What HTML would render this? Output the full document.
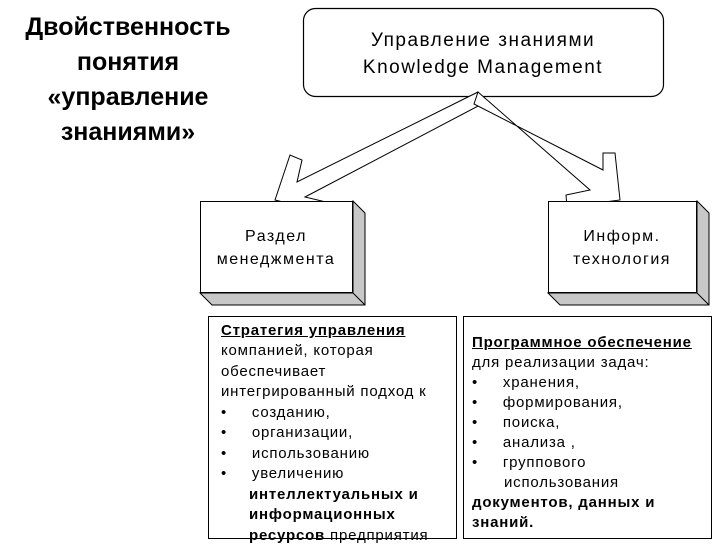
<!DOCTYPE html>
<html><head><meta charset="utf-8"><style>
body{margin:0;width:720px;height:540px;background:#fff;position:relative;overflow:hidden;font-family:"Liberation Sans",sans-serif;color:#000}
.t{position:absolute;left:0;width:256px;text-align:center;font-weight:bold;font-size:25px;line-height:35px;top:10px}
.box{position:absolute;border:1.5px solid #000;font-size:15px;line-height:20.5px;letter-spacing:0.8px;box-sizing:border-box}
.l{position:absolute;white-space:nowrap}
.bx{position:absolute;text-align:center;font-size:16px;line-height:23px;letter-spacing:1.5px}
</style></head><body>
<div class="t">Двойственность<br>понятия<br>«управление<br>знаниями»</div>
<svg width="720" height="540" style="position:absolute;left:0;top:0">
<rect x="303.5" y="8.5" width="360" height="88" rx="12" fill="#fff" stroke="#000" stroke-width="1.2"/>
<g fill="#fff" stroke="#000" stroke-width="1">
<polygon points="478,92 297,182 302,160 290,155 275,200 327,213 330,203 305,197 482,104"/>
<polygon points="478,92 590,190 566,195 567,207 620,200 615,153 603,153 603,170 474,104"/>
</g>
<g stroke="#000" stroke-width="1">
<polygon points="353,201 365,213 365,305 212,305 200,293 353,293" fill="#c8c8c8"/>
<rect x="200.5" y="201.5" width="152" height="91" fill="#fff"/>
<line x1="353" y1="293" x2="365" y2="305"/>
<polygon points="697,201 709,213 709,305 560,305 548,293 697,293" fill="#c8c8c8"/>
<rect x="548.5" y="201.5" width="148" height="91" fill="#fff"/>
<line x1="697" y1="293" x2="709" y2="305"/>
</g>
</svg>
<div class="bx" style="left:303px;top:27px;width:360px;font-size:19px;line-height:27px;letter-spacing:1.5px">Управление знаниями<br>Knowledge Management</div>
<div class="bx" style="left:200px;top:225px;width:152px">Раздел<br>менеджмента</div>
<div class="bx" style="left:548px;top:225px;width:148px">Информ.<br>технология</div>
<div class="box" style="left:208px;top:316px;width:249px;height:223px">
<div class="l" style="left:12px;top:4px"><b><u>Стратегия управления</u></b></div>
<div class="l" style="left:12px;top:24px">компанией, которая</div>
<div class="l" style="left:12px;top:45px">обеспечивает</div>
<div class="l" style="left:12px;top:65px">интегрированный подход к</div>
<div class="l" style="left:12px;top:86px">•&nbsp;&nbsp;&nbsp;&nbsp;&nbsp;созданию,</div>
<div class="l" style="left:12px;top:106px">•&nbsp;&nbsp;&nbsp;&nbsp;&nbsp;организации,</div>
<div class="l" style="left:12px;top:127px">•&nbsp;&nbsp;&nbsp;&nbsp;&nbsp;использованию</div>
<div class="l" style="left:12px;top:147px">•&nbsp;&nbsp;&nbsp;&nbsp;&nbsp;увеличению</div>
<div class="l" style="left:40px;top:168px"><b>интеллектуальных и</b></div>
<div class="l" style="left:40px;top:188px"><b>информационных</b></div>
<div class="l" style="left:40px;top:209px"><b>ресурсов</b> предприятия</div>
</div>
<div class="box" style="left:463px;top:316px;width:249px;height:223px">
<div class="l" style="left:8px;top:16px"><b><u>Программное обеспечение</u></b></div>
<div class="l" style="left:8px;top:36px">для реализации задач:</div>
<div class="l" style="left:8px;top:56px">•&nbsp;&nbsp;&nbsp;&nbsp;&nbsp;хранения,</div>
<div class="l" style="left:8px;top:76px">•&nbsp;&nbsp;&nbsp;&nbsp;&nbsp;формирования,</div>
<div class="l" style="left:8px;top:96px">•&nbsp;&nbsp;&nbsp;&nbsp;&nbsp;поиска,</div>
<div class="l" style="left:8px;top:116px">•&nbsp;&nbsp;&nbsp;&nbsp;&nbsp;анализа ,</div>
<div class="l" style="left:8px;top:136px">•&nbsp;&nbsp;&nbsp;&nbsp;&nbsp;группового</div>
<div class="l" style="left:40px;top:156px">использования</div>
<div class="l" style="left:8px;top:176px"><b>документов, данных и</b></div>
<div class="l" style="left:8px;top:196px"><b>знаний.</b></div>
</div>
</body></html>
